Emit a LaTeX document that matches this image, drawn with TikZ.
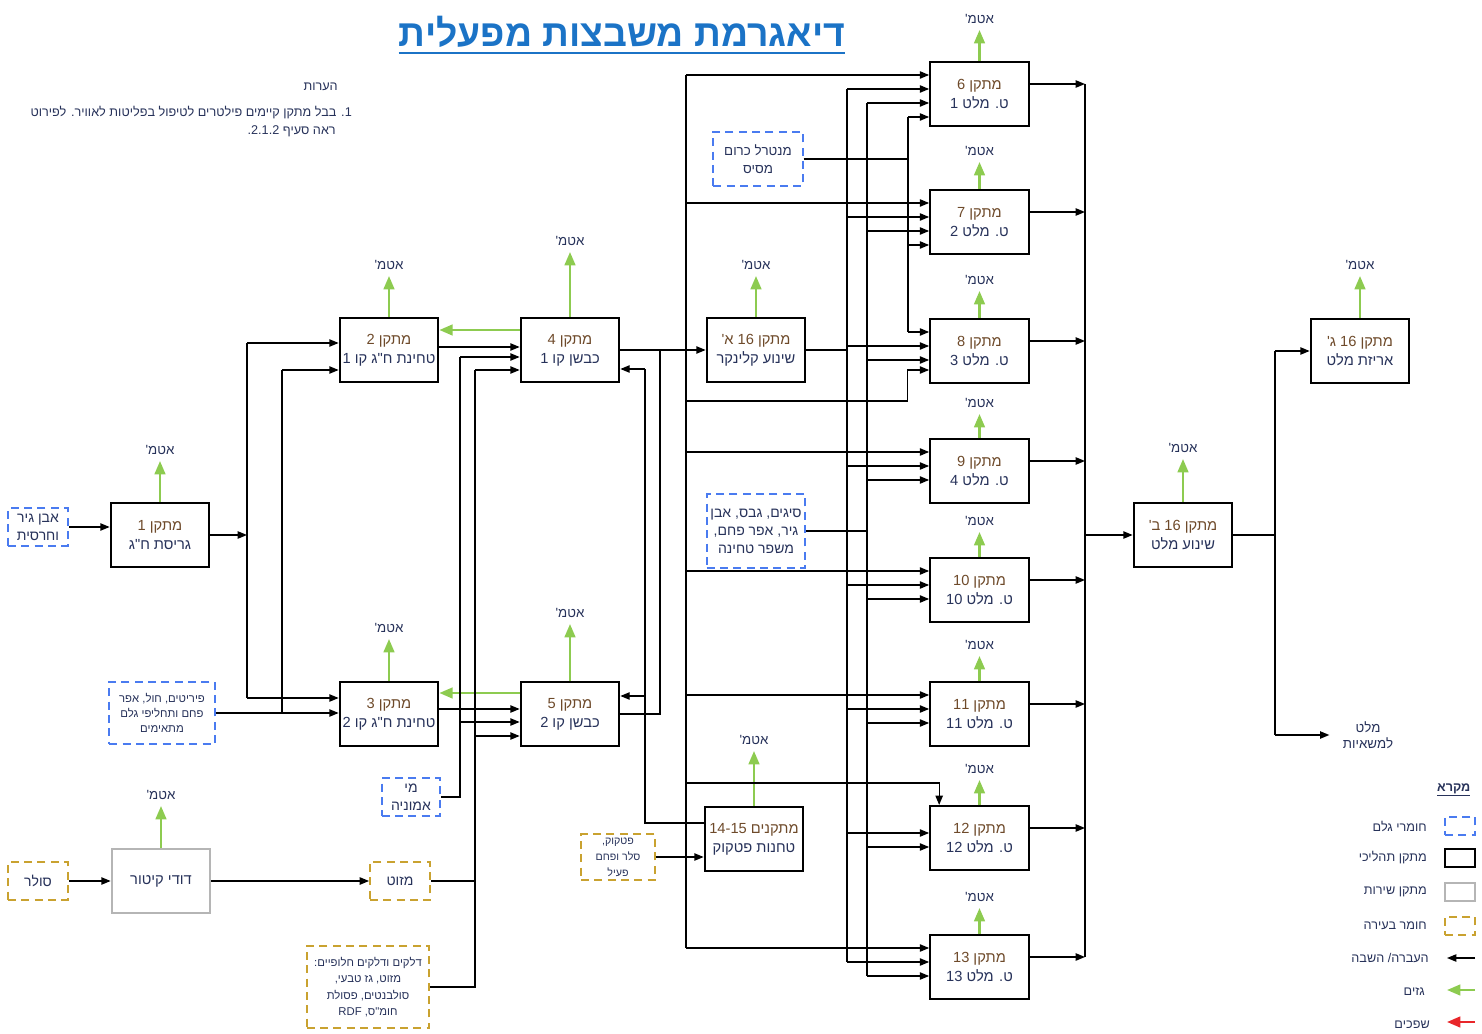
\documentclass[tikz,border=0pt]{standalone}
\usepackage{fontspec}
\setmainfont{Liberation Sans}
\newfontfamily\hebfont[Script=Hebrew]{Liberation Sans}
\usetikzlibrary{arrows.meta,calc}
\TeXXeTstate=1
\newcommand{\hb}[1]{\beginR #1\endR}
\newcommand{\nm}[1]{\beginL #1\endL{}}
\definecolor{rawblue}{HTML}{4A7BF0}
\definecolor{fuelgold}{HTML}{C9A230}
\definecolor{gasgreen}{HTML}{8DCB50}
\definecolor{auxgray}{HTML}{B5B5B5}
\definecolor{titleblue}{HTML}{1B73C6}
\definecolor{txtbrown}{HTML}{6E4A2A}
\definecolor{txtnavy}{HTML}{27325A}
\definecolor{spillred}{HTML}{E8262A}
\newcommand{\two}[2]{{\color{txtbrown}\hb{#1}}\\{\color{txtnavy}\hb{#2}}}
\tikzset{
  unit/.style={draw, line width=1.5pt, minimum width=74pt, minimum height=48pt, inner sep=1pt, align=center, font=\hebfont\fontsize{11}{14.25}\selectfont},
  aux/.style={unit, draw=auxgray},
  raw/.style={draw=rawblue, line width=1.4pt, dash pattern=on 6pt off 4pt, align=center, inner sep=1pt, text=txtnavy, font=\hebfont\fontsize{10.5}{13.5}\selectfont},
  fuel/.style={raw, draw=fuelgold},
  lbl/.style={font=\hebfont\fontsize{10}{12}\selectfont, text=txtnavy, inner sep=1pt},
  note/.style={font=\hebfont\fontsize{9.5}{12}\selectfont, text=txtnavy, inner sep=0pt},
  lgbox/.style={minimum width=22.5pt, minimum height=14pt, inner sep=0pt},
  pipe/.style={line width=1pt},
  flow/.style={-{Triangle[length=7pt,width=5.5pt]}, line width=1pt},
  gas/.style={-{Triangle[length=10pt,width=8pt]}, draw=gasgreen, line width=1.8pt},
}
\begin{document}
\begin{tikzpicture}[x=0.75pt,y=-0.75pt]
\useasboundingbox (0,0) rectangle (1482,1034);

% Title and notes
\node[font=\hebfont\bfseries\fontsize{28}{32}\selectfont, text=titleblue, inner sep=0pt, anchor=base] (title) at (622,47) {\hb{דיאגרמת משבצות מפעלית}};
\draw[titleblue, line width=2pt] ($(title.base west)+(0,6)$) -- ($(title.base east)+(0,6)$);
\node[note, anchor=east] (notehead) at (338,87) {\hb{הערות}};
\node[note, anchor=east] (note1) at (352,113) {\hb{\nm{1}. בבל מתקן קיימים פילטרים לטיפול בפליטות לאוויר. לפירוט}};
\node[note, anchor=east] (note2) at (336,131) {\hb{ראה סעיף \nm{2.1.2}.}};

% Raw materials and fuels
\node[raw, minimum width=45pt, minimum height=28pt] (raw1) at (38,527) {\hb{אבן גיר}\\\hb{וחרסית}};
\node[raw, minimum width=79pt, minimum height=47pt, font=\hebfont\fontsize{8.5}{11.25}\selectfont] (pyr) at (162,713) {\hb{פיריטים, חול, אפר}\\\hb{פחם ותחליפי גלם}\\\hb{מתאימים}};
\node[raw, minimum width=44pt, minimum height=28pt] (amm) at (411,797) {\hb{מי}\\\hb{אמוניה}};
\node[raw, minimum width=67pt, minimum height=41pt, font=\hebfont\fontsize{10}{13.5}\selectfont] (chrome) at (758,159) {\hb{מנטרל כרום}\\\hb{מסיס}};
\node[raw, minimum width=74pt, minimum height=55pt] (addit) at (756,531) {\hb{סיגים, גבס, אבן}\\\hb{גיר, אפר פחם,}\\\hb{משפר טחינה}};
\node[fuel, minimum width=45pt, minimum height=28pt] (sol) at (38,881) {\hb{סולר}};
\node[fuel, minimum width=45pt, minimum height=28.5pt] (maz) at (400,881) {\hb{מזוט}};
\node[fuel, minimum width=92pt, minimum height=61.5pt, font=\hebfont\fontsize{8.5}{12.3}\selectfont] (fuel) at (368,987) {\hb{דלקים ודלקים חלופיים:}\\\hb{מזוט, גז טבעי,}\\\hb{סולבנטים, פסולת}\\\hb{חומ"ס, \nm{RDF}}};
\node[fuel, minimum width=55.5pt, minimum height=34pt, font=\hebfont\fontsize{8}{12}\selectfont] (pet) at (618,857) {\hb{פטקוק,}\\\hb{סלר ופחם}\\\hb{פעיל}};

% Process units
\node[unit] (m1) at (160,535) {\two{מתקן 1}{גריסת ח"ג}};
\node[unit] (m2) at (389,350) {\two{מתקן 2}{טחינת ח"ג קו 1}};
\node[unit] (m3) at (389,714) {\two{מתקן 3}{טחינת ח"ג קו 2}};
\node[unit] (m4) at (570,350) {\two{מתקן 4}{כבשן קו 1}};
\node[unit] (m5) at (570,714) {\two{מתקן 5}{כבשן קו 2}};
\node[unit] (m16a) at (756,350) {\two{מתקן 16 א'}{שינוע קלינקר}};
\node[unit] (m1415) at (754,839) {\two{מתקנים \nm{14-15}}{טחנות פטקוק}};
\foreach \m/\y/\b in {6/94/1, 7/222/2, 8/351/3, 9/471/4, 10/590/10, 11/714/11, 12/838/12, 13/967/13}
  \node[unit] (m\m) at (979.5,\y) {\two{מתקן \m}{ט. מלט \b}};
\node[unit] (m16b) at (1183,535) {\two{מתקן 16 ב'}{שינוע מלט}};
\node[unit] (m16c) at (1360,351) {\two{מתקן 16 ג'}{אריזת מלט}};
\node[aux] (boiler) at (161,881) {\color{txtnavy}\hb{דודי קיטור}};
\node[lbl, align=center] (trk) at (1368,735) {\hb{מלט}\\\hb{למשאיות}};

% Stack emissions
\foreach \m/\h in {m1/41,m2/41,m3/42,m4/65,m5/57,m16a/41,m1415/55,boiler/42,m6/31,m7/27,m8/27,m9/24,m10/25,m11/25,m12/25,m13/26,m16b/43,m16c/42}
  \draw[gas] (\m.north) -- ++(0,-\h) node[lbl, above=3pt, name=\m g] {\hb{אטמ'}};
\coordinate (g4) at ($(m4.west)+(0,-20)$);
\draw[gas] (g4) -- (m2.east |- g4);
\coordinate (g5) at ($(m5.west)+(0,-21)$);
\draw[gas] (g5) -- (m3.east |- g5);

% Raw mills
\coordinate (l1) at (247,535);
\coordinate (l2) at (282,535);
\coordinate (m2ia) at ($(m2.west)+(0,-7)$);
\coordinate (m2ib) at ($(m2.west)+(0,20)$);
\coordinate (m3ia) at ($(m3.west)+(0,-16)$);
\draw[flow] (raw1.east) -- (m1.west |- raw1.east);
\draw[flow] (m1.east) -- (l1 |- m1.east);
\draw[pipe] (l1 |- m2ia) -- (l1 |- m3ia);
\draw[flow] (l1 |- m2ia) -- (m2ia);
\draw[flow] (l1 |- m3ia) -- (m3ia);
\draw[flow] (pyr.east) -- (m3.west |- pyr.east);
\draw[pipe] (l2 |- pyr.east) -- (l2 |- m2ib);
\draw[flow] (l2 |- m2ib) -- (m2ib);

% Kilns
\coordinate (am) at (460,797);
\coordinate (fu) at (475,881);
\coordinate (m4ia) at ($(m4.west)+(0,-3)$);
\coordinate (m4ib) at ($(m4.west)+(0,7)$);
\coordinate (m4ic) at ($(m4.west)+(0,20)$);
\coordinate (m5ia) at ($(m5.west)+(0,-5)$);
\coordinate (m5ib) at ($(m5.west)+(0,8)$);
\coordinate (m5ic) at ($(m5.west)+(0,22)$);
\draw[flow] (m2.east |- m4ia) -- (m4ia);
\draw[flow] (m3.east |- m5ia) -- (m5ia);
\draw[pipe] (amm.east) -- (am |- amm.east) -- (am |- m4ib);
\draw[flow] (am |- m4ib) -- (m4ib);
\draw[flow] (am |- m5ib) -- (m5ib);
\draw[pipe] (maz.east) -- (fu |- maz.east);
\draw[pipe] (fuel.east) -- (fu |- fuel.east) -- (fu |- m4ic);
\draw[flow] (fu |- m4ic) -- (m4ic);
\draw[flow] (fu |- m5ic) -- (m5ic);

% Boiler
\draw[flow] (sol.east) -- (boiler.west);
\draw[flow] (boiler.east) -- (maz.west);

% Petcoke mills
\coordinate (px) at (645,823);
\coordinate (m4id) at ($(m4.east)+(0,19)$);
\coordinate (m5id) at ($(m5.east)+(0,-18)$);
\draw[flow] (pet.east) -- (m1415.west |- pet.east);
\draw[pipe] (m1415.west |- px) -- (px) -- (px |- m4id);
\draw[flow] (px |- m4id) -- (m4id);
\draw[flow] (px |- m5id) -- (m5id);

% Clinker
\coordinate (kx) at (660,350);
\coordinate (busA) at (686,350);
\coordinate (busB) at (847,350);
\coordinate (busC) at (867,531);
\coordinate (busD) at (908,159);
\coordinate (outbus) at (1085,531);
\draw[flow] (m4.east) -- (m16a.west);
\draw[pipe] (m5.east) -| (kx);
\draw[pipe] (m16a.east) -- (busB |- m16a.east);
\draw[pipe] (addit.east) -- (busC |- addit.east);
\draw[pipe] (chrome.east) -- (busD |- chrome.east);

% Cement mills
\foreach \m in {6,7,8,9,10,11,12,13} {
  \coordinate (m\m ia) at ($(m\m.west)+(0,-19)$);
  \coordinate (m\m ib) at ($(m\m.west)+(0,-5)$);
  \coordinate (m\m ic) at ($(m\m.west)+(0,9)$);
  \coordinate (m\m o) at ($(m\m.east)+(0,-10)$);
  \draw[flow] (busB |- m\m ib) -- (m\m ib);
  \draw[flow] (busC |- m\m ic) -- (m\m ic);
  \draw[flow] (m\m o) -- (outbus |- m\m o);
}
\foreach \m in {6,7,9,10,11,13}
  \draw[flow] (busA |- m\m ia) -- (m\m ia);
\draw[pipe] (busA |- m6ia) -- (busA |- m13ia);
\draw[pipe] (busB |- m6ib) -- (busB |- m13ib);
\draw[pipe] (busC |- m6ic) -- (busC |- m13ic);
\draw[pipe] (outbus |- m6o) -- (outbus |- m13o);
\coordinate (m6id) at ($(m6.west)+(0,23)$);
\coordinate (m7id) at ($(m7.west)+(0,23)$);
\draw[pipe] (busD |- m6id) -- (busD |- m8ia);
\draw[flow] (busD |- m6id) -- (m6id);
\draw[flow] (busD |- m7id) -- (m7id);
\draw[flow] (busD |- m8ia) -- (m8ia);
\coordinate (m8id) at ($(m8.west)+(0,19)$);
\coordinate (m8lp) at ($(m8.west)+(-22,50)$);
\draw[flow] (busA |- m8lp) -- (m8lp) |- (m8id);
\coordinate (m12k) at ($(m12.north west)+(10,-22)$);
\draw[flow] (busA |- m12k) -- (m12k) -- (m12k |- m12.north);

% Cement dispatch
\coordinate (ox) at (1275,535);
\draw[flow] (outbus |- m16b.west) -- (m16b.west);
\draw[pipe] (m16b.east) -- (ox);
\draw[pipe] (ox |- m16c.west) -- (ox |- trk.west);
\draw[flow] (ox |- m16c.west) -- (m16c.west);
\draw[flow] (ox |- trk.west) -- ($(trk.west)+(-12,0)$);

% Legend
\node[lbl, font=\hebfont\bfseries\fontsize{9.5}{12}\selectfont, anchor=east] (lgh) at (1472,790) {\underline{\hb{מקרא}}};
\node[raw, lgbox] (lg1) at (1460,826) {};
\node[draw, line width=1.5pt, lgbox] (lg2) at (1460,858) {};
\node[draw=auxgray, line width=1.5pt, lgbox] (lg3) at (1460,892) {};
\node[fuel, lgbox] (lg4) at (1460,926) {};
\node[note, anchor=east] (lt1) at (1427,826) {\hb{חומרי גלם}};
\node[note, anchor=east] (lt2) at (1427,858) {\hb{מתקן תהליכי}};
\node[note, anchor=east] (lt3) at (1427,892) {\hb{מתקן שירות}};
\node[note, anchor=east] (lt4) at (1427,926) {\hb{חומר בעירה}};
\node[note, anchor=east] (lt5) at (1429,958) {\hb{העברה/ השבה}};
\node[note, anchor=east] (lt6) at (1425,992) {\hb{גזים}};
\node[note, anchor=east] (lt7) at (1430,1025) {\hb{שפכים}};
\coordinate (la1) at (1475,958);
\coordinate (lb1) at (1447,958);
\coordinate (la2) at (1475,990);
\coordinate (lb2) at (1447,990);
\coordinate (la3) at (1475,1022);
\coordinate (lb3) at (1447,1022);
\draw[flow] (la1) -- (lb1);
\draw[gas] (la2) -- (lb2);
\draw[gas, draw=spillred] (la3) -- (lb3);
\end{tikzpicture}
\end{document}
